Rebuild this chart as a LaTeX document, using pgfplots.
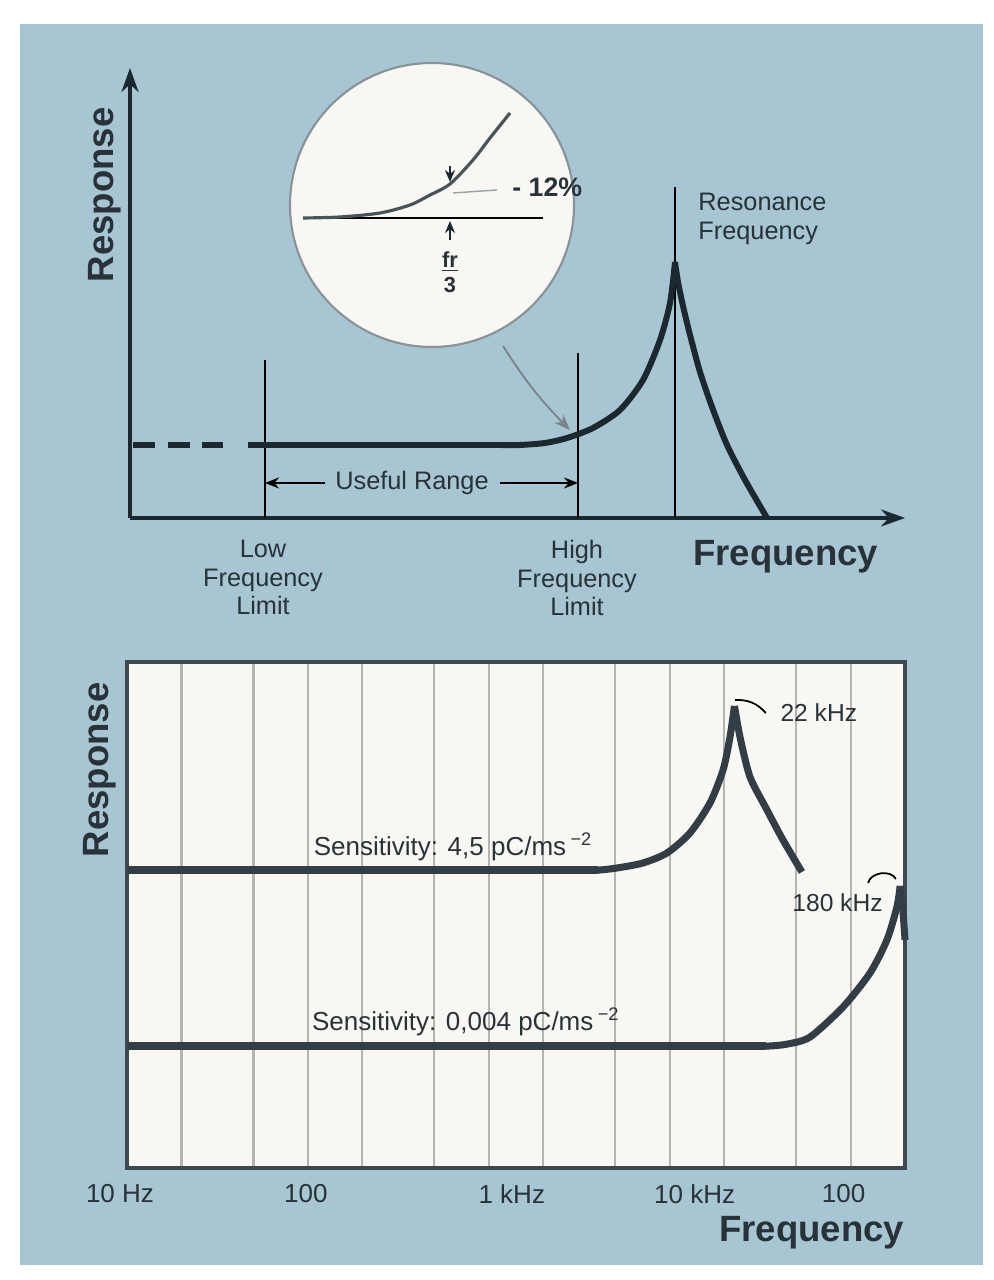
\documentclass[border=0pt]{standalone}
\usepackage{pgfplots}
\pgfplotsset{compat=1.18}
\usepackage{fontspec}
\setmainfont{Liberation Sans}
\usetikzlibrary{arrows.meta}
\definecolor{bgblue}{RGB}{167,197,210}
\definecolor{ink}{RGB}{28,40,48}
\definecolor{txt}{RGB}{40,50,56}
\definecolor{thin}{RGB}{85,100,108}
\definecolor{paper}{RGB}{248,247,243}
\definecolor{gridc}{RGB}{180,180,176}
\newcommand\smallfs{\fontsize{7.2pt}{8.1pt}\selectfont}
\newcommand\bigfs{\fontsize{10.4pt}{12pt}\selectfont\bfseries}
\begin{document}
\begin{tikzpicture}
\path[fill=white] (0,0) rectangle (9.93,12.80);
\fill[bgblue] (0.20,0.15) rectangle (9.83,12.56);

% ---------------- top schematic ----------------
\begin{axis}[at={(1.30cm,7.62cm)}, anchor=south west, scale only axis,
  width=7.75cm, height=4.50cm, xmin=0, xmax=775, ymin=0, ymax=450,
  axis lines=left,
  axis line style={ink, line width=1.1pt, -{Stealth[length=2.4mm,width=1.7mm]}},
  xtick=\empty, ytick=\empty, clip=false]
  % inset circle
  \draw[thin!70, line width=0.6pt, fill=paper] (axis cs:302,313) circle[radius=1.42cm];
  \addplot[thin, line width=0.6pt] coordinates {(173,300) (413,300)};
  \addplot[ink!80, line width=0.9pt, smooth] coordinates {(173,300) (210,301) (250,305) (280,313) (300,323) (320,334) (343,358) (360,380) (380,405)};
  \draw[ink, line width=0.5pt, -{Stealth[length=1.2mm,width=1.0mm]}] (axis cs:320,352) -- (axis cs:320,336);
  \draw[ink, line width=0.5pt, -{Stealth[length=1.2mm,width=1.0mm]}] (axis cs:320,278) -- (axis cs:320,297);
  \draw[thin!60, line width=0.4pt] (axis cs:323,325) -- (axis cs:367,328);
  \node[anchor=west, text=txt, font=\fontsize{7.6pt}{9pt}\selectfont\bfseries] at (axis cs:370,331) {- 12\%};
  \node[text=txt, font=\fontsize{6.2pt}{7pt}\selectfont\bfseries, inner sep=0pt] at (axis cs:320,243)
    {\begin{tabular}{@{}c@{}}fr\\[-1.5pt]\hline\noalign{\vskip1pt}3\end{tabular}};
  % pointer from inset to curve
  \draw[thin!80, line width=0.5pt, -{Stealth[length=1.6mm,width=1.2mm]}] (axis cs:373,172) to[bend right=6] (axis cs:440,88);
  % limit lines
  \addplot[thin, line width=0.6pt] coordinates {(135,0) (135,158)};
  \addplot[thin, line width=0.6pt] coordinates {(448,0) (448,165)};
  \addplot[thin, line width=0.6pt] coordinates {(545,0) (545,331)};
  % response curve
  \addplot[ink, line width=1.7pt, dash pattern=on 2.2mm off 1.25mm] coordinates {(3,73) (93,73)};
  \addplot[ink, line width=1.7pt] coordinates {(118,73) (380,73)};
  \addplot[ink, line width=1.7pt, smooth, tension=0.45] coordinates {(370,73) (390,73) (415,75) (437,80) (463,90) (490,108) (513,138) (530,178) (540,215) (545,256)};
  \addplot[ink, line width=1.7pt, smooth, tension=0.45] coordinates {(545,256) (548,236) (553,212) (560,183) (570,146) (582,111) (597,73) (615,38) (637,0)};
  % useful range
  \draw[thin, line width=0.5pt, -{Stealth[length=1.4mm,width=1.1mm]}] (axis cs:195,35) -- (axis cs:135,35);
  \draw[thin, line width=0.5pt, -{Stealth[length=1.4mm,width=1.1mm]}] (axis cs:370,35) -- (axis cs:448,35);
  \node[text=txt, font=\smallfs] at (axis cs:282,35) {Useful Range};
  % labels
  \node[anchor=north, align=center, text=txt, font=\smallfs] at (axis cs:133,-10) {Low\\Frequency\\Limit};
  \node[anchor=north, align=center, text=txt, font=\smallfs] at (axis cs:447,-10) {High\\Frequency\\Limit};
  \node[anchor=north west, align=left, text=txt, font=\smallfs] at (axis cs:556,337) {Resonance\\Frequency};
  \node[anchor=west, text=txt, font=\bigfs] at (axis cs:551,-39) {Frequency};
  \node[rotate=90, text=txt, font=\bigfs] at (axis cs:-25,323) {Response};
\end{axis}

% ---------------- bottom measured chart ----------------
\begin{axis}[at={(1.27cm,1.12cm)}, anchor=south west, scale only axis,
  width=7.78cm, height=5.06cm, xmode=log, xmin=10, xmax=200000, ymin=0, ymax=506,
  axis background/.style={fill=paper},
  axis line style={ink!85, line width=1.2pt},
  xtick={10,100,1000,10000,100000},
  minor xtick={20,50,200,500,2000,5000,20000,50000},
  xticklabels={{\kern-0.14cm 10 Hz},{\kern-0.04cm 100},{\kern0.46cm 1 kHz},{\kern0.50cm 10 kHz},{\kern-0.14cm 100}},
  xticklabel style={anchor=north, text=txt, font=\fontsize{7.4pt}{8pt}\selectfont, yshift=-0.04cm},
  ytick=\empty, major tick length=0pt, minor tick length=0pt,
  xmajorgrids, xminorgrids,
  major grid style={gridc, line width=0.6pt}, minor grid style={gridc, line width=0.6pt},
  clip=false]
  % 4,5 pC/ms^-2 curve, resonance 22 kHz
  \addplot[ink!90, line width=2pt] coordinates {(10,298) (4000,298)};
  \addplot[ink!90, line width=2pt, smooth, tension=0.45] coordinates {(3500,298) (4120,298) (5117,300) (7117,305) (9660,315) (12940,335) (16700,365) (19720,398) (21500,430) (22800,462)};
  \addplot[ink!90, line width=2pt, smooth, tension=0.45] coordinates {(22800,462) (24470,431) (27800,391) (34500,358) (42300,328) (53800,296)};
  % 0,004 pC/ms^-2 curve, resonance 180 kHz
  \addplot[ink!90, line width=2pt] coordinates {(10,122) (34000,122)};
  \addplot[ink!90, line width=2pt, smooth, tension=0.45] coordinates {(30000,122) (35800,122) (45000,124) (59700,131) (90800,161) (128000,195) (158800,228) (180300,261) (188000,282)};
  \addplot[ink!90, line width=2pt] coordinates {(188000,282) (194000,262) (200000,228)};
  \draw[thin, line width=0.5pt] (axis cs:23000,468) to[bend left=25] (axis cs:34000,455);
  \draw[thin, line width=0.5pt] (axis cs:125000,285) to[bend left=70] (axis cs:178000,289);
  \node[anchor=west, text=txt, font=\fontsize{7pt}{8pt}\selectfont] at (axis cs:35000,455) {22 kHz};
  \node[anchor=west, text=txt, font=\fontsize{7pt}{8pt}\selectfont] at (axis cs:40700,265) {180 kHz};
  \node[anchor=west, text=txt, font=\fontsize{7.4pt}{8pt}\selectfont] at (axis cs:92,321) {Sensitivity: 4,5 pC/ms\,\textsuperscript{−2}};
  \node[anchor=west, text=txt, font=\fontsize{7.4pt}{8pt}\selectfont] at (axis cs:90,146) {Sensitivity: 0,004 pC/ms\,\textsuperscript{−2}};
  \node[rotate=90, text=txt, font=\bigfs] at (rel axis cs:-0.035,0.787) {Response};
  \node[text=txt, font=\bigfs] at (rel axis cs:0.880,-0.127) {Frequency};
\end{axis}
\end{tikzpicture}
\end{document}
